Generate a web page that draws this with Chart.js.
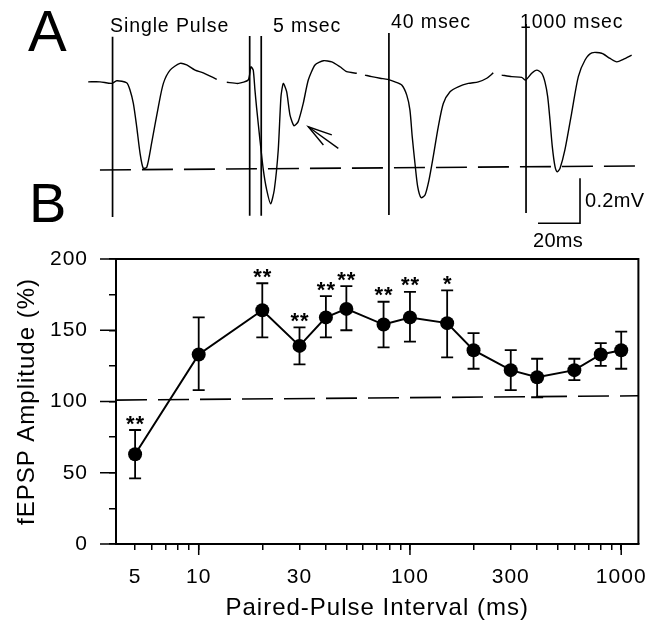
<!DOCTYPE html>
<html>
<head>
<meta charset="utf-8">
<script src="https://cdn.jsdelivr.net/npm/chart.js@4/dist/chart.umd.min.js"></script>
<style>
  body { margin: 0; background: #fff; }
  #wrap { position: relative; width: 660px; height: 629px; font-family: "Liberation Sans", Arial, sans-serif; color: #000; }
  canvas { position: absolute; left: 0; top: 0; }
  .lbl { position: absolute; line-height: 1; white-space: nowrap; }
  .cap { font-size: 19.5px; letter-spacing: 0.9px; }
</style>
</head>
<body>
<div id="wrap">
  <canvas id="traces" width="660" height="250" style="width:660px;height:250px"></canvas>
  <canvas id="summary" width="660" height="629" style="width:660px;height:629px"></canvas>
  <div class="lbl" style="left:28px;top:2px;font-size:58px">A</div>
  <div class="lbl" style="left:29px;top:175px;font-size:56px">B</div>
  <div class="lbl cap" style="left:110px;top:16px">Single Pulse</div>
  <div class="lbl cap" style="left:273px;top:16px">5 msec</div>
  <div class="lbl cap" style="left:391px;top:12px">40 msec</div>
  <div class="lbl cap" style="left:520px;top:12px">1000 msec</div>
  <div class="lbl" style="left:585px;top:190px;font-size:20px;letter-spacing:0.3px">0.2mV</div>
  <div class="lbl" style="left:533px;top:230px;font-size:20px;letter-spacing:0.3px">20ms</div>
</div>
<script>
// ---- panel A: example traces (time in ms along the strip, mV relative to the dashed baseline)
const singleT = [42, 47.6, 53.2, 55.6, 60.3, 61.9, 63.5, 65.1, 66.7, 68.2, 69.9, 72.2, 75.4, 77.8, 81, 85.7, 88.9, 92.9, 96.8, 103.2];
const singleV = [0.392, 0.392, 0.385, 0.397, 0.388, 0.356, 0.296, 0.192, 0.074, 0.008, 0.012, 0.119, 0.281, 0.385, 0.444, 0.474, 0.467, 0.444, 0.432, 0.403];

const pair5T = [108, 113.5, 118.2, 119.5, 120.6, 121.4, 122.2, 123.8, 125.4, 127, 128.9, 130.6, 132.5, 133.8, 134.9, 136.5, 138.1, 140, 142, 144.4, 146.8, 150, 154, 158, 161.9, 165.1, 169.9];
const pair5V = [0.39, 0.385, 0.4, 0.459, 0.444, 0.356, 0.276, 0.133, 0, -0.089, -0.151, -0.089, 0.089, 0.326, 0.385, 0.348, 0.244, 0.197, 0.215, 0.296, 0.4, 0.467, 0.486, 0.481, 0.459, 0.437, 0.43];

const pair40T = [173.8, 177, 181, 184.6, 188.1, 191.3, 193.7, 195.2, 196.3, 197.6, 198.9, 200.5, 202.4, 204.3, 206.3, 208.7, 211.1, 214.3, 218.2, 223, 227.8, 231.8, 234.9];
const pair40V = [0.422, 0.415, 0.408, 0.403, 0.392, 0.378, 0.333, 0.267, 0.148, 0.03, -0.074, -0.123, -0.111, -0.044, 0.059, 0.192, 0.296, 0.348, 0.37, 0.385, 0.392, 0.408, 0.432];

const pair1000T = [238.9, 243.7, 248.4, 250.3, 253.2, 255.6, 258, 259.5, 260.8, 261.9, 263, 264.3, 265.4, 266.7, 269, 272.2, 275.4, 278.6, 281.8, 286.5, 290.5, 293.7, 296.8, 300.8];
const pair1000V = [0.422, 0.415, 0.412, 0.4, 0.43, 0.444, 0.43, 0.392, 0.326, 0.222, 0.104, 0.015, -0.008, 0.008, 0.089, 0.252, 0.415, 0.489, 0.521, 0.519, 0.496, 0.481, 0.492, 0.511];

// stimulus artefacts: time, top, bottom
const stimT = [53.6, 118.9, 124.4, 185.2, 250.5];
const stimTop = [0.592, 0.596, 0.596, 0.609, 0.649];
const stimBottom = [-0.209, -0.204, -0.204, -0.2, -0.191];

const baselineT = [47.6, 304.8];
const baselineV = [0, 0.018];

// scale bar 20 ms / 0.2 mV
const barT = [256.2, 276.2, 276.2];
const barV = [-0.237, -0.237, -0.037];

// arrow pointing at the second response
const arrowT = [158.0, 146.8, 154.0];
const arrowV = [0.156, 0.192, 0.111];
const arrowTail = [161.1, 0.096];

// ---- panel B: paired-pulse facilitation
const intervals = [5, 10, 20, 30, 40, 50, 75, 100, 150, 200, 300, 400, 600, 800, 1000];
const amplitude = [63, 133, 164, 139, 159, 165, 154, 159, 155, 136, 122, 117, 122, 133, 136];
const errUpper = [80, 159, 183, 152, 174, 181, 170, 177, 178, 148, 136, 130, 130, 141, 149];
const errLower = [46, 108, 145, 126, 145, 150, 138, 142, 131, 123, 108, 103, 115, 125, 123];
const stars = ['**', '', '**', '**', '**', '**', '**', '**', '*', '', '', '', '', '', ''];
const refLine = [101, 104];
const xTickValues = [5, 6, 7, 8, 9, 10, 20, 30, 40, 50, 60, 70, 80, 90, 100, 200, 300, 400, 500, 600, 700, 800, 900, 1000];
const xLabels = [5, 10, 30, 100, 300, 1000];
const xMajor = [10, 100, 1000];
const yMajor = [0, 50, 100, 150, 200];

const FONT = '"Liberation Sans", Arial, sans-serif';
const xMin = 4.06, xMax = 1206;

const pts = (t, v) => t.map((x, i) => ({x: x, y: v[i]}));
const line = (data, extra) => Object.assign({data: data, showLine: true, borderColor: '#000', borderWidth: 1.4, pointRadius: 0}, extra || {});

const traceSets = [
    line(pts(singleT, singleV), {tension: 0.25}),
    line(pts(pair5T, pair5V), {tension: 0.2}),
    line(pts(pair40T, pair40V), {tension: 0.25}),
    line(pts(pair1000T, pair1000V), {tension: 0.25}),
    line(pts(baselineT, baselineV), {borderDash: [31, 11], borderWidth: 1.6}),
    line(pts(barT, barV), {borderWidth: 1.6}),
    line(pts(arrowT, arrowV), {borderWidth: 1.4}),
    line([{x: arrowT[1], y: arrowV[1]}, {x: arrowTail[0], y: arrowTail[1]}], {borderWidth: 1.4})
];
stimT.forEach((t, i) => {
    traceSets.push(line([{x: t, y: stimTop[i]}, {x: t, y: stimBottom[i]}], {borderWidth: 1.7}));
});

new Chart(document.getElementById('traces'), {
    type: 'scatter',
    data: {datasets: traceSets},
    options: {
        responsive: false,
        animation: false,
        layout: {padding: 0, autoPadding: false},
        plugins: {legend: {display: false}, tooltip: {enabled: false}},
        scales: {
            x: {type: 'linear', display: false, min: 0, max: 314.29},
            y: {display: false, min: -0.356, max: 0.756}
        }
    }
});

// error bars, significance stars, longer major ticks and the box
const extras = {
    id: 'extras',
    beforeDraw(chart) {
        chart.ctx.letterSpacing = '1px';
    },
    beforeDatasetsDraw(chart) {
        const {ctx, scales: {x, y}} = chart;
        ctx.save();
        ctx.strokeStyle = '#000';
        ctx.lineWidth = 1.8;
        intervals.forEach((v, i) => {
            const px = x.getPixelForValue(v);
            const top = y.getPixelForValue(errUpper[i]);
            const bot = y.getPixelForValue(errLower[i]);
            ctx.beginPath();
            ctx.moveTo(px, top); ctx.lineTo(px, bot);
            ctx.moveTo(px - 6, top); ctx.lineTo(px + 6, top);
            ctx.moveTo(px - 6, bot); ctx.lineTo(px + 6, bot);
            ctx.stroke();
        });
        ctx.restore();
    },
    afterDraw(chart) {
        const {ctx, chartArea: a, scales: {x, y}} = chart;
        ctx.save();
        ctx.strokeStyle = '#000';
        ctx.lineWidth = 2;
        ctx.beginPath();
        ctx.moveTo(a.left, a.top); ctx.lineTo(a.right, a.top); ctx.lineTo(a.right, a.bottom);
        ctx.stroke();
        ctx.lineWidth = 1.5;
        ctx.beginPath();
        yMajor.forEach(v => {
            const py = y.getPixelForValue(v);
            ctx.moveTo(a.left, py); ctx.lineTo(a.left - 16, py);
        });
        xMajor.forEach(v => {
            const px = x.getPixelForValue(v);
            ctx.moveTo(px, a.bottom); ctx.lineTo(px, a.bottom + 11);
        });
        ctx.stroke();

        ctx.fillStyle = '#000';
        ctx.font = 'bold 22px ' + FONT;
        ctx.letterSpacing = '1px';
        ctx.textAlign = 'center';
        ctx.textBaseline = 'alphabetic';
        const m = ctx.measureText('*');
        const shift = (m.actualBoundingBoxAscent - m.actualBoundingBoxDescent) / 2;
        intervals.forEach((v, i) => {
            if (!stars[i]) return;
            const px = x.getPixelForValue(v);
            const cy = y.getPixelForValue(errUpper[i]) - 10;
            ctx.fillText(stars[i], px + 0.5, cy + shift);
        });
        ctx.restore();
    }
};

new Chart(document.getElementById('summary'), {
    type: 'scatter',
    data: {
        datasets: [
            {
                data: pts(intervals, amplitude),
                showLine: true,
                borderColor: '#000',
                borderWidth: 2,
                pointRadius: 7,
                pointBackgroundColor: '#000',
                pointBorderColor: '#000',
                pointBorderWidth: 0
            },
            line([{x: xMin, y: refLine[0]}, {x: xMax, y: refLine[1]}], {borderDash: [31, 11], borderWidth: 1.6})
        ]
    },
    options: {
        responsive: false,
        animation: false,
        layout: {padding: {top: 259, right: 13, left: 0, bottom: 0}, autoPadding: false},
        plugins: {legend: {display: false}, tooltip: {enabled: false}},
        scales: {
            x: {
                type: 'logarithmic',
                min: xMin,
                max: xMax,
                afterBuildTicks: s => { s.ticks = xTickValues.map(v => ({value: v})); },
                afterFit: s => { s.height = 85; },
                ticks: {
                    autoSkip: false,
                    maxRotation: 0,
                    padding: 15,
                    color: '#000',
                    font: {size: 21, family: FONT},
                    callback: v => xLabels.includes(v) ? String(v) : ''
                },
                grid: {drawOnChartArea: false, tickLength: 6, color: '#000', lineWidth: 1.5},
                border: {color: '#000', width: 2},
                title: {display: true, text: 'Paired-Pulse Interval (ms)', color: '#000',
                        font: {size: 24, family: FONT}, padding: {top: 0, bottom: 6}}
            },
            y: {
                min: 0,
                max: 200,
                afterFit: s => { s.width = 116; },
                ticks: {
                    stepSize: 25,
                    padding: 21,
                    color: '#000',
                    font: {size: 21, family: FONT},
                    callback: v => v % 50 === 0 ? String(v) : ''
                },
                grid: {drawOnChartArea: false, tickLength: 7, color: '#000', lineWidth: 1.5},
                border: {color: '#000', width: 2},
                title: {display: true, text: 'fEPSP Amplitude (%)', color: '#000',
                        font: {size: 24, family: FONT}, padding: {top: 13, bottom: 0}}
            }
        }
    },
    plugins: [extras]
});
</script>
</body>
</html>
